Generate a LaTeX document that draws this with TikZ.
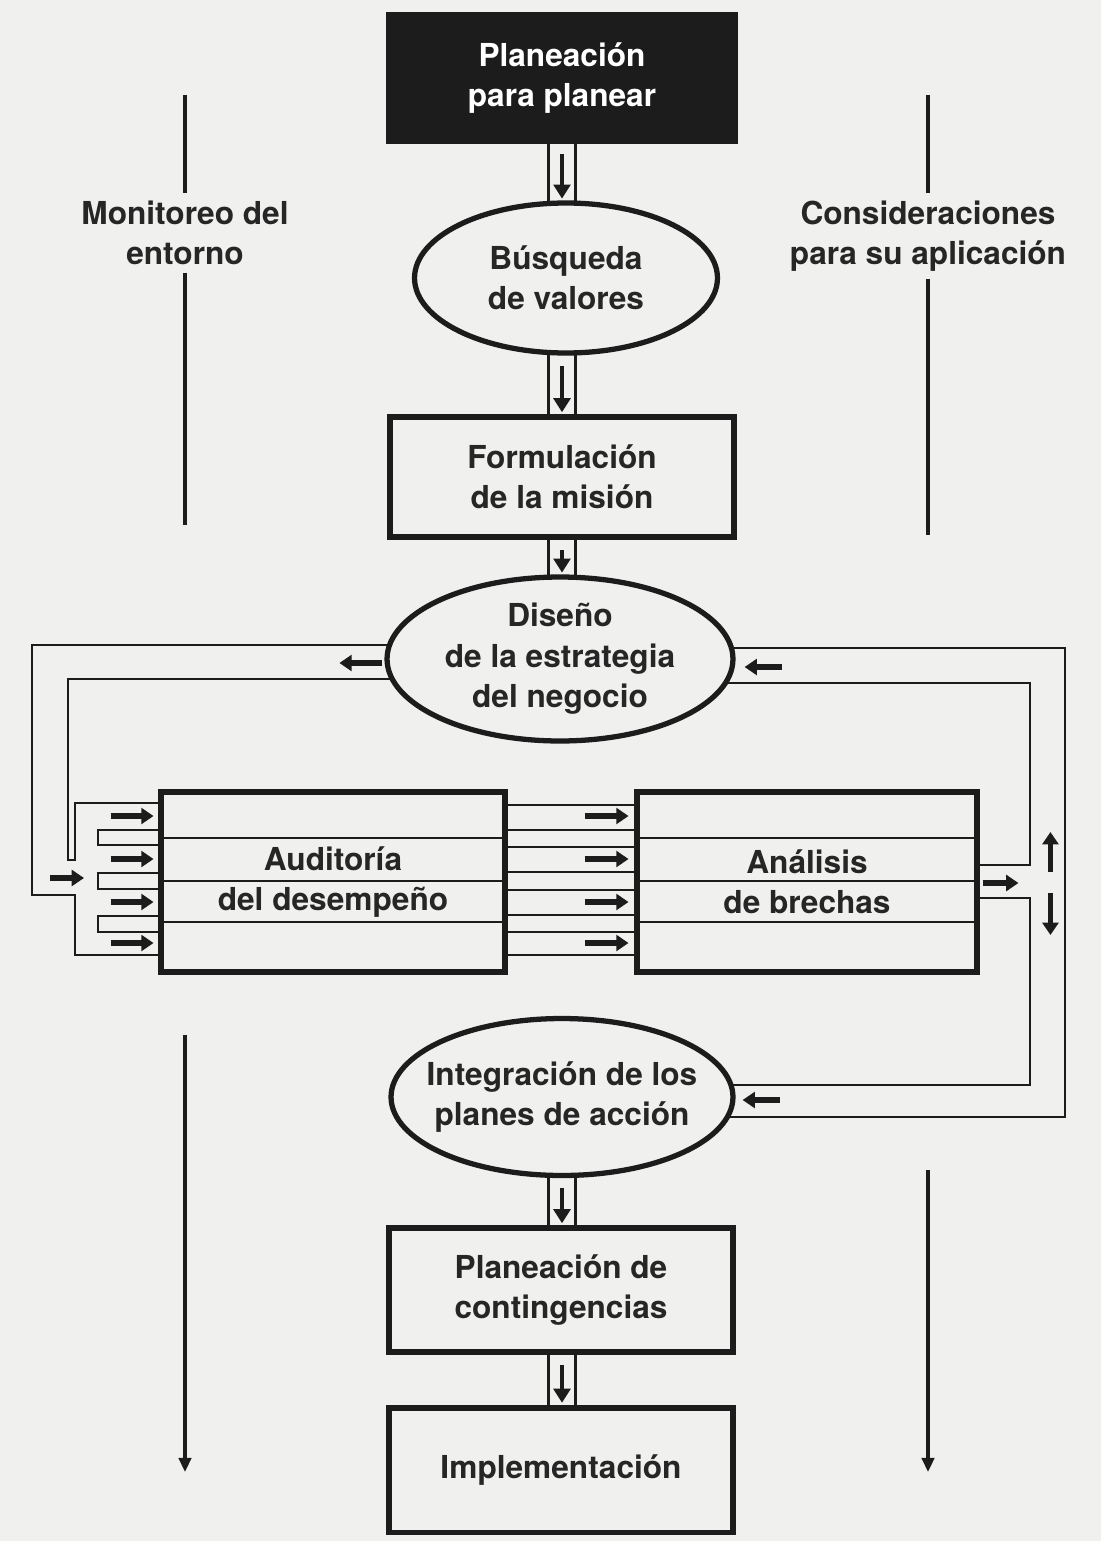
\documentclass[tikz,border=0pt]{standalone}
\usepackage{fontspec}
\setmainfont{TeX Gyre Heros}
\usetikzlibrary{arrows.meta, shapes.geometric, calc}
\definecolor{paper}{HTML}{F0F0EE}
\definecolor{ink}{HTML}{262626}
\definecolor{inkdark}{HTML}{1C1C1C}
\pgfdeclarelayer{back}
\pgfsetlayers{back,main}

\begin{document}
\begin{tikzpicture}[x=0.02cm, y=-0.02cm,
  font=\fontsize{18}{23}\selectfont\bfseries,
  box/.style={draw=inkdark, line width=3.4pt, fill=paper, text=ink, align=center, inner sep=0pt},
  oval/.style={ellipse, draw=inkdark, line width=3pt, fill=paper, text=ink, align=center, inner xsep=-0.7cm, inner ysep=0pt},
  sidetext/.style={text=ink, align=center, inner sep=4pt},
  wall/.style={inkdark, line width=1.5pt},
  pipe/.style={draw=inkdark, line width=1.5pt, double=paper, double distance=0.48cm},
  flow/.style={inkdark, line width=2.8pt, -{Triangle[length=8pt, width=9.5pt]}},
  tick/.style={inkdark, line width=3pt, -{Triangle[length=7pt, width=9pt]}},
  guide/.style={inkdark, line width=2.3pt}
]

% Paper
\begin{pgfonlayer}{back}
\fill[paper] (0,0) rectangle (1101,1541);
\end{pgfonlayer}

% Main column
\node[box, fill=inkdark, text=white, minimum width=6.92cm, minimum height=2.54cm] (plan) at (562,78) {Planeación\\para planear};
\node[oval, minimum width=6.06cm, minimum height=3.0cm] (valores) at (566,278) {Búsqueda\\de valores};
\node[box, minimum width=6.88cm, minimum height=2.4cm] (mision) at (562,477) {Formulación\\de la misión};
\node[oval, minimum width=6.92cm, minimum height=3.28cm] (diseno) at (560,659) {Diseño\\de la estrategia\\del negocio};
\node[box, minimum width=6.9cm, minimum height=3.6cm] (audit) at (333,882) {Auditoría\\del desempeño};
\node[box, minimum width=6.82cm, minimum height=3.6cm] (brechas) at (807,882) {Análisis\\de brechas};
\node[oval, minimum width=6.84cm, minimum height=3.14cm] (integ) at (562,1097) {Integración de los\\planes de acción};
\node[box, minimum width=6.9cm, minimum height=2.48cm] (conting) at (561,1290) {Planeación de\\contingencias};
\node[box, minimum width=6.9cm, minimum height=2.5cm] (impl) at (561,1470) {Implementación};

% Side labels
\node[sidetext] (mon) at (185,233) {Monitoreo del\\entorno};
\node[sidetext] (cons) at (928,236) {Consideraciones\\para su aplicación};
\coordinate (montop) at (185,95);
\coordinate (monmid) at (185,525);
\coordinate (monlow) at (185,1035);
\coordinate (monend) at (185,1472);
\coordinate (constop) at (928,95);
\coordinate (consmid) at (928,535);
\coordinate (conslow) at (928,1170);
\coordinate (consend) at (928,1472);

\draw[guide] (montop) -- (mon.north);
\draw[guide] (mon.south) -- (monmid);
\draw[guide, -{Triangle[length=8pt, width=7pt]}] (monlow) -- (monend);
\draw[guide] (constop) -- (cons.north);
\draw[guide] (cons.south) -- (consmid);
\draw[guide, -{Triangle[length=8pt, width=7pt]}] (conslow) -- (consend);

% Pipes down the column
\begin{pgfonlayer}{back}
\foreach \a/\b in {plan/valores, valores/mision, mision/diseno, integ/conting, conting/impl}
  \draw[pipe] (plan.center |- \a.center) -- (plan.center |- \b.center);
\end{pgfonlayer}
\foreach \a/\b in {plan/valores, valores/mision, mision/diseno, integ/conting, conting/impl}
  \draw[flow, shorten >=1pt] ($(plan.center |- \a.south)+(0,10)$) -- (plan.center |- \b.north);

% Feedback on the left, into the audit
\begin{pgfonlayer}{back}
\draw[wall] ($(diseno)+(0,-14)$) -| (32,895) -| (75,955) -- ($(audit)+(0,73)$);
\draw[wall] ($(diseno)+(0,20)$) -| (68,860) -| (75,803) -- ($(audit)+(0,-79)$);
\foreach \ya/\yb in {830/845, 873/889, 916/932}
  \draw[wall] (333,\ya) -| (98,\yb) -- (333,\yb);
% channels audit -> brechas
\foreach \dy in {-77,-52,-35,-10,8,33,50,73}
  \draw[wall] ($(audit)+(0,\dy)$) -- ($(brechas)+(0,\dy)$);
% feedback on the right
\draw[wall] ($(brechas)+(0,-17)$) -| (1030,683) -- ($(diseno)+(0,24)$);
\draw[wall] ($(brechas)+(0,16)$) -| (1030,1085) -- ($(integ)+(0,-12)$);
\draw[wall] ($(diseno)+(0,-11)$) -| (1065,1117) -- ($(integ)+(0,20)$);
\end{pgfonlayer}

% Stripes in the boxes
\foreach \dy in {-44,-1,40} {
  \draw[wall] ($(audit.west)+(0,\dy)$) -- ($(audit.east)+(0,\dy)$);
  \draw[wall] ($(brechas.west)+(0,\dy)$) -- ($(brechas.east)+(0,\dy)$);
}

% Small arrows
\draw[tick] ($(diseno.west)+(-2,4)$) -- ($(diseno.west)+(-45,4)$);
\draw[tick] ($(diseno.east)+(46,8)$) -- ($(diseno.east)+(9,8)$);
\draw[tick] ($(integ.east)+(44,3)$) -- ($(integ.east)+(7,3)$);
\draw[tick] (50,878) -- (84,878);
\foreach \dy in {-66,-23,20,61} {
  \draw[tick] ($(audit.west)+(-47,\dy)$) -- ($(audit.west)+(-4,\dy)$);
  \draw[tick] ($(brechas.west)+(-49,\dy)$) -- ($(brechas.west)+(-5,\dy)$);
}
\draw[tick] ($(brechas.east)+(3,1)$) -- ($(brechas.east)+(38,1)$);
\draw[tick] ($(brechas.east)+(70,-10)$) -- ($(brechas.east)+(70,-50)$);
\draw[tick] ($(brechas.east)+(70,11)$) -- ($(brechas.east)+(70,53)$);

\end{tikzpicture}
\end{document}
